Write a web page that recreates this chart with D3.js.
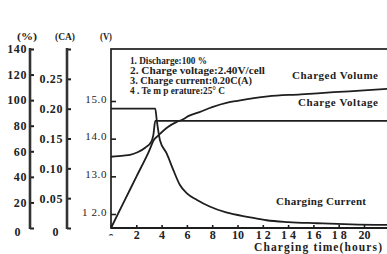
<!DOCTYPE html>
<html><head><meta charset="utf-8">
<script src="https://cdn.jsdelivr.net/npm/d3@7"></script>
<style>
body{margin:0;background:#fff}
svg{display:block}
text{font-family:"Liberation Serif",serif;fill:#222}
</style>
</head><body><svg id="c" width="387" height="254"></svg>
<script>
// ---- data ----
const hourTicks = [0, 2, 4, 6, 8, 10, 12, 14, 16, 18, 20];
const hourTickLabels = ["0", "2", "4", "6", "8", "10", "1 2", "1 4", "1 6", "1 8", "20"];
const percentTicks = [0, 20, 40, 60, 80, 100, 120, 140];
const caTicks = [0, 0.05, 0.10, 0.15, 0.20, 0.25, 0.30];
const caTickLabels = ["0", "0.05", "0.10", "0.15", "0.20", "0.25", ""];
const voltTicks = [12, 13, 14, 15];
const voltTickLabels = ["1 2.0", "13.0", "14.0", "15.0"];

const volumeT   = [0, 1, 2, 3, 3.4, 3.7, 4.5, 5.2, 5.7, 6.1, 7, 8, 9.2, 10, 12.4, 15, 17.6, 20, 22.2];
const volumePct = [0, 20, 40, 60, 69, 72, 79, 83, 85, 87.5, 90.7, 94.5, 98, 99.5, 103, 104.5, 106.2, 107.6, 109];

const currentT  = [0, 3.5, 3.62, 3.87, 4.4, 4.93, 5.45, 6, 6.8, 7.8, 9.1, 11, 12.3, 14, 16.3, 19, 22.2];
const currentCA = [0.2, 0.2, 0.18, 0.147, 0.125, 0.097, 0.072, 0.058, 0.047, 0.036, 0.026, 0.018, 0.013, 0.010, 0.008, 0.006, 0.005];

const voltageT = [0, 1, 1.5, 2.1, 2.7, 3.2, 3.35, 3.5, 22.2];
const voltageV = [13.52, 13.55, 13.57, 13.64, 13.76, 13.93, 14.1, 14.47, 14.47];

const notes = ["1. Discharge:100 %", "2. Charge voltage:2.40V/cell", "3. Charge current:0.20C(A)", "4 . Te m p erature:25° C"];
const seriesLabels = ["Charged Volume", "Charge Voltage", "Charging Current"];
const unitLabels = ["(%)", "(CA)", "(V)"];
const xTitle = "Charging time(hours)";

// ---- scales ----
const svg = d3.select("#c");
const x = d3.scaleLinear().domain([0, 20]).range([111, 364]);
const yP = d3.scaleLinear().domain([0, 140]).range([228, 49]);
const yC = d3.scaleLinear().domain([0, 0.3]).range([228, 49]);
const yV = d3.scaleLinear().domain([12, 15]).range([214, 101]);

const ink = "#1e1e1e";

function styleAxis(g, w) {
  g.select(".domain").remove();
  g.selectAll(".tick line").attr("stroke", ink).attr("stroke-width", w);
  g.selectAll(".tick text").attr("font-size", 12).attr("font-weight", "bold")
    .attr("fill", "#222").attr("font-family", "Liberation Serif").style("letter-spacing", "0.6px");
}

// percent axis
const gP = svg.append("g").attr("transform", "translate(30,0)")
  .call(d3.axisLeft(yP).tickValues(percentTicks).tickSizeInner(-4).tickSizeOuter(0).tickPadding(3));
styleAxis(gP, 2);
gP.append("line").attr("y1", yP(140) - 1).attr("y2", yP(0) + 1).attr("stroke", "#333").attr("stroke-width", 2.6);
gP.selectAll(".tick text").filter(d => d === 0).attr("dx", -6).attr("dy", "0.65em");

// CA axis
const gC = svg.append("g").attr("transform", "translate(67,0)")
  .call(d3.axisLeft(yC).tickValues(caTicks).tickSizeInner(-4).tickSizeOuter(0).tickPadding(4)
    .tickFormat((d, i) => caTickLabels[i]));
styleAxis(gC, 2);
gC.append("line").attr("y1", yC(0.3) - 1).attr("y2", yC(0) + 1).attr("stroke", "#333").attr("stroke-width", 2.6);
gC.selectAll(".tick text").filter(d => d === 0).attr("dx", -4).attr("dy", "0.65em");

// frame
svg.append("rect").attr("x", 111).attr("y", 49).attr("width", 300).attr("height", 179)
  .attr("fill", "none").attr("stroke", ink).attr("stroke-width", 1.7);

// V axis
const gV = svg.append("g").attr("transform", "translate(111,0)")
  .call(d3.axisLeft(yV).tickValues(voltTicks).tickSizeInner(-5).tickSizeOuter(0).tickPadding(4)
    .tickFormat((d, i) => voltTickLabels[i]));
styleAxis(gV, 1.6);
gV.selectAll(".tick text").attr("font-size", 11).attr("font-weight", "normal").attr("dy", "0.1em");

// x axis
svg.append("clipPath").attr("id", "zclip").append("rect").attr("x", 100).attr("y", 229).attr("width", 20).attr("height", 6.5);
const gX = svg.append("g").attr("transform", "translate(0,228)")
  .call(d3.axisBottom(x).tickValues(hourTicks).tickSizeInner(-3).tickSizeOuter(0).tickPadding(2)
    .tickFormat((d, i) => hourTickLabels[i]));
styleAxis(gX, 1.6);
gX.selectAll(".tick text").attr("font-size", 12).style("letter-spacing", "0px");
gX.selectAll(".tick").filter(d => d === 0).select("text").remove();
svg.append("text").attr("clip-path", "url(#zclip)").attr("x", x(0)).attr("y", 242)
  .attr("text-anchor", "middle").attr("font-size", 12).attr("font-weight", "bold").text(hourTickLabels[0]);
svg.append("line").attr("x1", 111).attr("x2", 400).attr("y1", 228).attr("y2", 228).attr("stroke", ink).attr("stroke-width", 2);

// ---- curves ----
const plot = svg.append("g");
function draw(ts, vs, yScale) {
  const pts = ts.map((t, i) => [t, vs[i]]);
  plot.append("path").datum(pts)
    .attr("d", d3.line().x(d => x(d[0])).y(d => yScale(d[1])).curve(d3.curveMonotoneX))
    .attr("fill", "none").attr("stroke", ink).attr("stroke-width", 1.8).attr("stroke-linejoin", "round");
}
draw(voltageT, voltageV, yV);
draw(currentT, currentCA, yC);
draw(volumeT, volumePct, yP);

// ---- texts ----
const noteW = [77, 135, 122, 95];
const noteY = [63.5, 73.5, 83.5, 93.5];
notes.forEach((s, i) => {
  svg.append("text").attr("x", 130).attr("y", noteY[i]).attr("font-size", 10).attr("font-weight", "bold")
    .attr("textLength", noteW[i]).attr("lengthAdjust", "spacingAndGlyphs").text(s);
});
const labX = [292, 298, 276], labY = [79, 106, 205], labW = [86, 80, 90];
seriesLabels.forEach((s, i) => {
  svg.append("text").attr("x", labX[i]).attr("y", labY[i]).attr("font-size", 11).attr("font-weight", "bold")
    .attr("textLength", labW[i]).attr("lengthAdjust", "spacing").text(s);
});
svg.append("text").attr("x", 254).attr("y", 250.5).attr("font-size", 11.5).attr("font-weight", "bold")
  .attr("textLength", 128).attr("lengthAdjust", "spacing").text(xTitle);
const unitX = [17, 55, 100], unitW = [20, 20, 12];
unitLabels.forEach((s, i) => {
  svg.append("text").attr("x", unitX[i]).attr("y", 39.5).attr("font-size", 10).attr("font-weight", "bold")
    .attr("textLength", unitW[i]).attr("lengthAdjust", "spacingAndGlyphs").text(s);
});
</script>
</body></html>
